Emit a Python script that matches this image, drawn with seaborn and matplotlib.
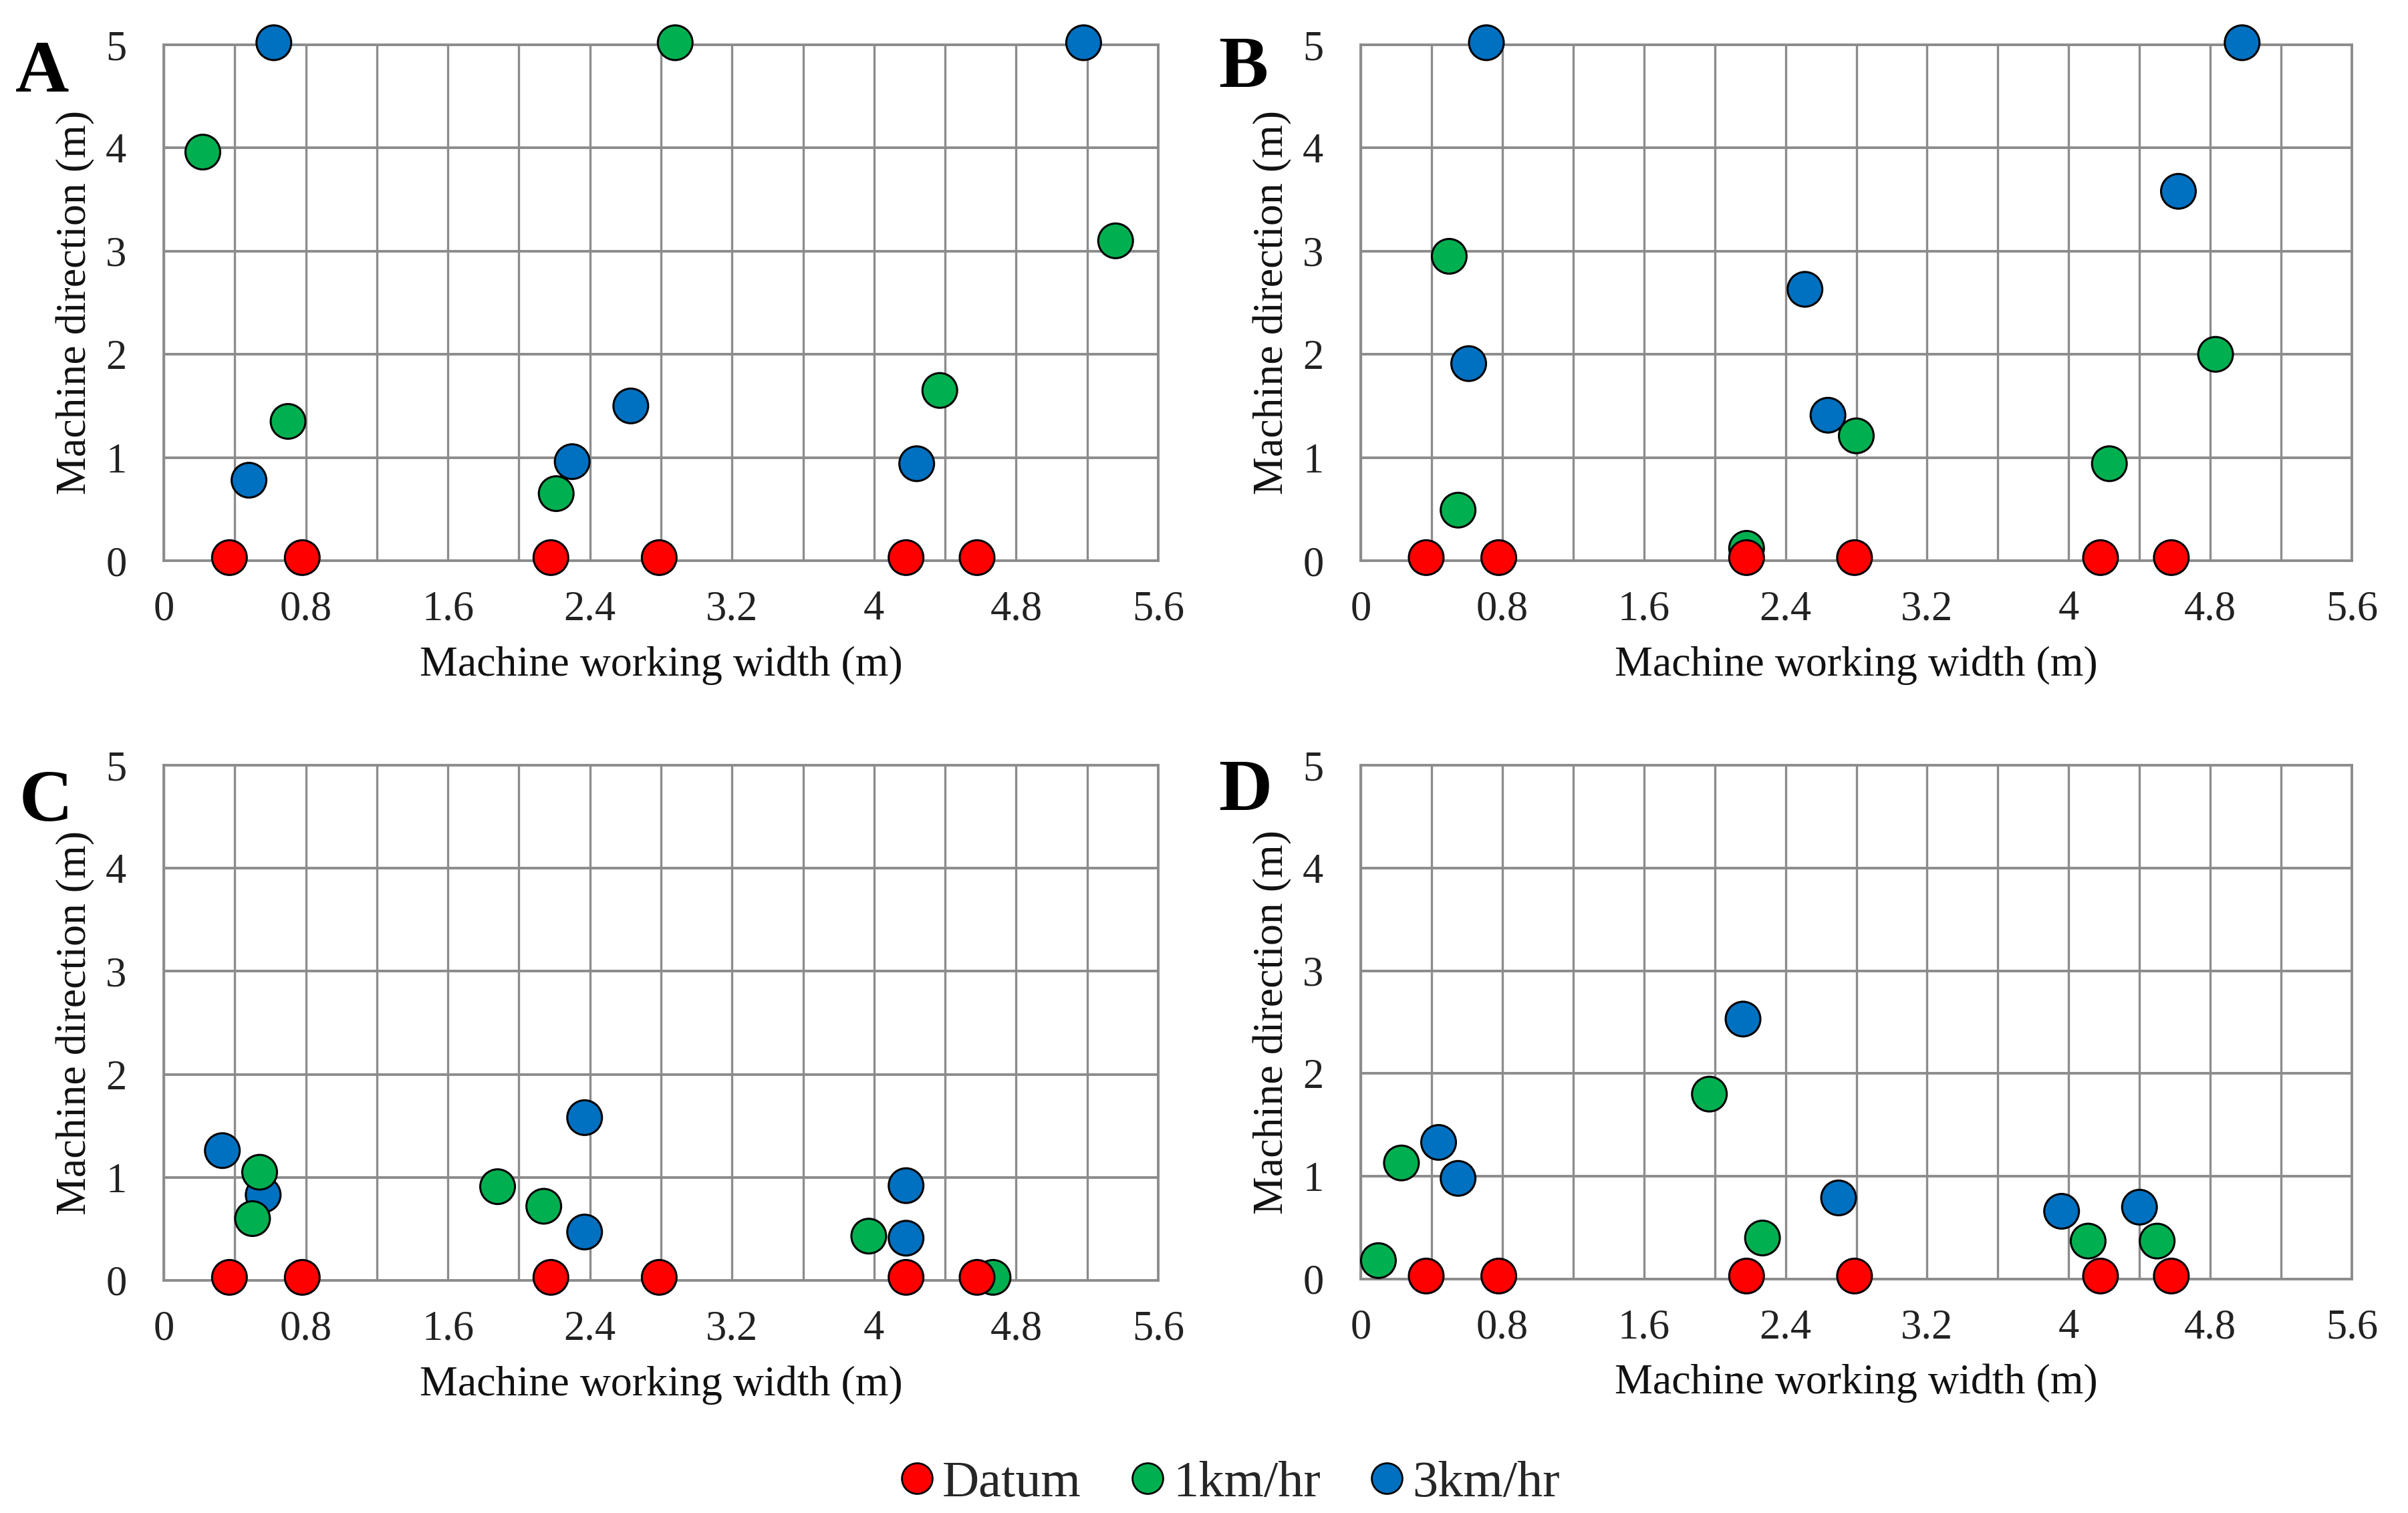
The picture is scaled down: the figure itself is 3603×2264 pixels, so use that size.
import numpy as np
import pandas as pd
import seaborn as sns
import matplotlib.pyplot as plt
from matplotlib.lines import Line2D

# Datum positions, same in all four panels
datum_x = [0.37, 0.78, 2.18, 2.79, 4.18, 4.58]
datum_y = [0.03, 0.03, 0.03, 0.03, 0.03, 0.03]

# panel A
a_1km_x = [0.22, 0.70, 2.21, 2.88, 4.37, 5.36]
a_1km_y = [3.96, 1.35, 0.65, 5.02, 1.65, 3.10]
a_3km_x = [0.62, 0.48, 2.30, 2.63, 4.24, 5.18]
a_3km_y = [5.02, 0.78, 0.96, 1.50, 0.94, 5.02]

# panel B
b_1km_x = [0.50, 0.55, 2.18, 2.80, 4.23, 4.83]
b_1km_y = [2.95, 0.49, 0.12, 1.21, 0.94, 2.00]
b_3km_x = [0.71, 0.61, 2.51, 2.64, 4.62, 4.98]
b_3km_y = [5.02, 1.91, 2.63, 1.41, 3.58, 5.02]

# panel C
c_1km_x = [0.54, 0.50, 1.88, 2.14, 3.97, 4.67]
c_1km_y = [1.05, 0.60, 0.91, 0.72, 0.43, 0.03]
c_3km_x = [0.33, 0.56, 2.37, 2.37, 4.18, 4.18]
c_3km_y = [1.26, 0.83, 1.58, 0.47, 0.92, 0.41]

# panel D
d_1km_x = [0.10, 0.23, 1.97, 2.27, 4.11, 4.50]
d_1km_y = [0.18, 1.13, 1.80, 0.40, 0.37, 0.37]
d_3km_x = [0.44, 0.55, 2.16, 2.70, 3.96, 4.40]
d_3km_y = [1.33, 0.98, 2.53, 0.79, 0.66, 0.70]

series_names = ["Datum", "1km/hr", "3km/hr"]
colors = {"Datum": "#FF0000", "1km/hr": "#00B050", "3km/hr": "#0070C0"}
x_ticks = [0, 0.8, 1.6, 2.4, 3.2, 4, 4.8, 5.6]
x_tick_labels = ["0", "0.8", "1.6", "2.4", "3.2", "4", "4.8", "5.6"]
y_ticks = [0, 1, 2, 3, 4, 5]

panels = {
    "A": (a_1km_x, a_1km_y, a_3km_x, a_3km_y),
    "B": (b_1km_x, b_1km_y, b_3km_x, b_3km_y),
    "C": (c_1km_x, c_1km_y, c_3km_x, c_3km_y),
    "D": (d_1km_x, d_1km_y, d_3km_x, d_3km_y),
}

sns.set_theme(style="white")
plt.rcParams["font.family"] = ["Liberation Serif", "DejaVu Serif"]

W, H = 3603, 2264
fig = plt.figure(figsize=(W / 100, H / 100), dpi=100)

# axes boxes in pixels: left, right, top, bottom
boxes = {
    "A": (245, 1733, 67, 839),
    "B": (2036, 3519, 67, 839),
    "C": (245, 1733, 1145, 1916),
    "D": (2036, 3519, 1145, 1914),
}
letter_pos = {"A": (23, 137), "B": (1823, 130), "C": (29, 1228), "D": (1823, 1212)}

grid_col = "#8c8c8c"

for key, (g_x, g_y, b_x, b_y) in panels.items():
    l, r, t, b = boxes[key]
    ax = fig.add_axes([l / W, 1 - b / H, (r - l) / W, (b - t) / H])

    # blue drawn first, then green, red on top
    df = pd.DataFrame({
        "x": b_x + g_x + datum_x,
        "y": b_y + g_y + datum_y,
        "series": ["3km/hr"] * len(b_x) + ["1km/hr"] * len(g_x) + ["Datum"] * len(datum_x),
    })
    sns.scatterplot(data=df, x="x", y="y", hue="series", palette=colors,
                    s=1400, edgecolor="black", linewidth=2.2, legend=False,
                    clip_on=False, zorder=3, ax=ax)

    ax.set_xlim(0, 5.6)
    ax.set_ylim(0, 5)
    ax.set_xticks(x_ticks)
    ax.set_xticklabels(x_tick_labels)
    ax.set_xticks(np.arange(0.4, 5.6, 0.8), minor=True)
    ax.set_yticks(y_ticks)
    ax.grid(True, which="both", axis="x", color=grid_col, linewidth=2.4)
    ax.grid(True, which="major", axis="y", color=grid_col, linewidth=2.8)
    ax.set_axisbelow(True)
    for sp in ax.spines.values():
        sp.set_color(grid_col)
        sp.set_linewidth(2.8)
    ax.tick_params(axis="both", which="both", length=0, labelsize=45, colors="#222222")
    ax.tick_params(axis="x", pad=32)
    ax.tick_params(axis="y", pad=40)

    ax.set_xlabel("Machine working width (m)", fontsize=46, color="#111111")
    ax.set_ylabel("Machine direction (m)", fontsize=46, color="#111111")
    ax.xaxis.set_label_coords(0.5, -0.165)
    ax.yaxis.set_label_coords(-0.069, 0.5)

    lx, ly = letter_pos[key]
    fig.text(lx / W, 1 - ly / H, key, fontsize=80, fontweight="bold",
             ha="left", va="baseline", color="black")

handles = [Line2D([0], [0], marker="o", linestyle="", markersize=33,
                  markerfacecolor=colors[n], markeredgecolor="black",
                  markeredgewidth=2, label=n) for n in series_names]
fig.legend(handles=handles, loc="center", bbox_to_anchor=(0.51, 0.0194),
           ncol=3, frameon=False, fontsize=55, handletextpad=0.1,
           columnspacing=0.9, handlelength=0.8)

fig.savefig("out.png", dpi=100, facecolor="white")
